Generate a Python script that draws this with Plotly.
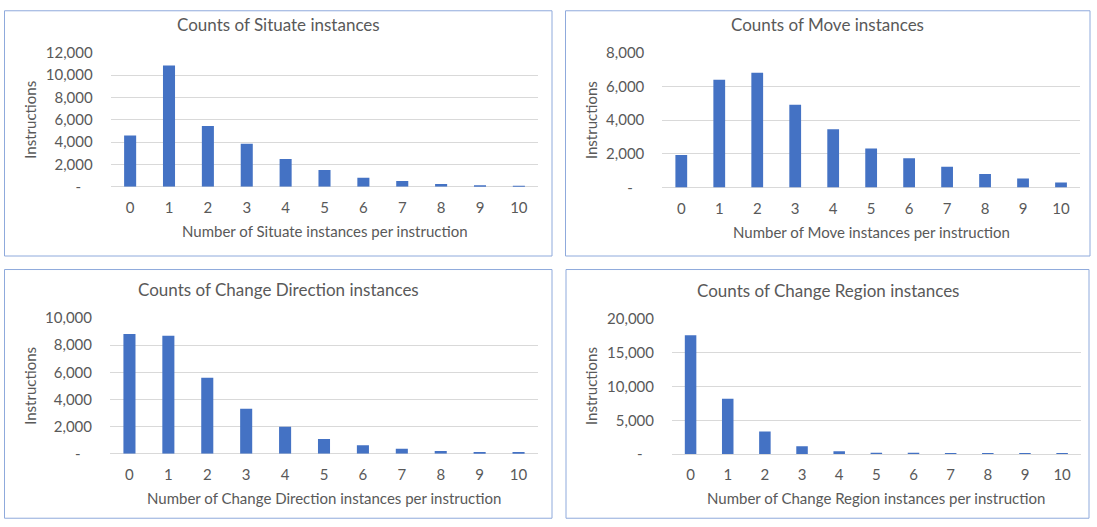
import plotly.graph_objects as go

W, H = 1097, 527

categories = [str(i) for i in range(11)]

situate = [4600, 10850, 5450, 3850, 2480, 1500, 810, 510, 245, 125, 20]
move = [1930, 6400, 6820, 4920, 3460, 2310, 1740, 1240, 810, 530, 300]
change_direction = [8820, 8700, 5600, 3310, 1980, 1090, 620, 370, 200, 120, 120]
change_region = [17580, 8200, 3350, 1130, 400, 180, 170, 160, 150, 150, 150]

panel_titles = ["Counts of Situate instances", "Counts of Move instances",
                "Counts of Change Direction instances", "Counts of Change Region instances"]
x_titles = ["Number of Situate instances per instruction",
            "Number of Move instances per instruction",
            "Number of Change Direction instances per instruction",
            "Number of Change Region instances per instruction"]
y_title = "Instructions"

y_ticks = [
    [0, 2000, 4000, 6000, 8000, 10000, 12000],
    [0, 2000, 4000, 6000, 8000],
    [0, 2000, 4000, 6000, 8000, 10000],
    [0, 5000, 10000, 15000, 20000],
]

series = [situate, move, change_direction, change_region]

# layout geometry in pixels: plot area (x0, x1, top, bottom), panel border (x0, x1, top, bottom)
plots = [
    (110.7, 538.3, 44.2, 183.0),
    (662.3, 1080.0, 44.2, 183.8),
    (110.0, 538.0, 318.9, 459.4),
    (672.0, 1080.7, 319.9, 459.7),
]
borders = [
    (4.5, 552.0, 0.8, 254.7),
    (565.5, 1090.0, 0.8, 254.7),
    (4.5, 552.0, 268.7, 526.2),
    (566.0, 1089.0, 268.7, 526.2),
]
title_y = [15.5, 15.5, 289.6, 290.3]

FONT = "Lato, 'Liberation Sans', sans-serif"
TXT = "#595959"
GRID = "#D9D9D9"
BAR = "#4472C4"
BORDER = "#8FAADC"

def px(x):
    return x / W

def py(y):
    return 1 - y / H

fig = go.Figure()
annotations = []
shapes = []

for i in range(4):
    n = "" if i == 0 else str(i + 1)
    x0, x1, y0, y1 = plots[i]
    fig.add_trace(go.Bar(
        x=categories, y=series[i], marker=dict(color=BAR, line=dict(width=0)),
        xaxis="x" + n, yaxis="y" + n, showlegend=False, hoverinfo="x+y",
    ))
    ticks = y_ticks[i]
    ttext = ["-\u00a0\u00a0\u00a0"] + [f"{v:,}" for v in ticks[1:]]
    fig.update_layout(**{
        "xaxis" + n: dict(
            domain=[px(x0), px(x1)], anchor="y" + n, type="category",
            showgrid=False, showline=False, zeroline=False,
            ticks="", tickfont=dict(family=FONT, size=15, color=TXT),
            ticklabelstandoff=10, fixedrange=True,
        ),
        "yaxis" + n: dict(
            domain=[py(y1), py(y0)], anchor="x" + n, range=[0, ticks[-1] * 1.0005],
            tickvals=ticks, ticktext=ttext, showgrid=True, gridcolor=GRID, gridwidth=1,
            zeroline=True, zerolinecolor=GRID, zerolinewidth=1, showline=False,
            ticks="", tickfont=dict(family=FONT, size=15, color=TXT),
            ticklabelstandoff=17, fixedrange=True,
        ),
    })
    bx0, bx1, by0, by1 = borders[i]
    shapes.append(dict(type="rect", xref="paper", yref="paper",
                       x0=px(bx0), x1=px(bx1), y0=py(by1), y1=py(by0),
                       line=dict(color=BORDER, width=1), fillcolor="rgba(0,0,0,0)", layer="below"))
    annotations.append(dict(text=panel_titles[i], xref="paper", yref="paper",
                            x=px((bx0 + bx1) / 2), y=py(title_y[i]), xanchor="center", yanchor="middle",
                            showarrow=False, font=dict(family=FONT, size=17, color=TXT)))
    annotations.append(dict(text=x_titles[i], xref="paper", yref="paper",
                            x=px((x0 + x1) / 2), y=py(y1 + 46), xanchor="center", yanchor="middle",
                            showarrow=False, font=dict(family=FONT, size=15, color=TXT)))
    annotations.append(dict(text=y_title, xref="paper", yref="paper", textangle=-90,
                            x=px(bx0 + 25.5), y=py((y0 + y1) / 2), xanchor="center", yanchor="middle",
                            showarrow=False, font=dict(family=FONT, size=15, color=TXT)))

fig.update_layout(
    width=W, height=H, autosize=False, margin=dict(l=0, r=0, t=0, b=0),
    paper_bgcolor="white", plot_bgcolor="white",
    bargap=0.69, annotations=annotations, shapes=shapes,
    font=dict(family=FONT, color=TXT),
)

post = """
var s = document.createElement('style');
s.textContent = 'html,body{margin:0!important;padding:0!important;overflow:hidden!important;}';
document.head.appendChild(s);
"""
fig.write_html("out.html", config={"displayModeBar": False}, post_script=post)
